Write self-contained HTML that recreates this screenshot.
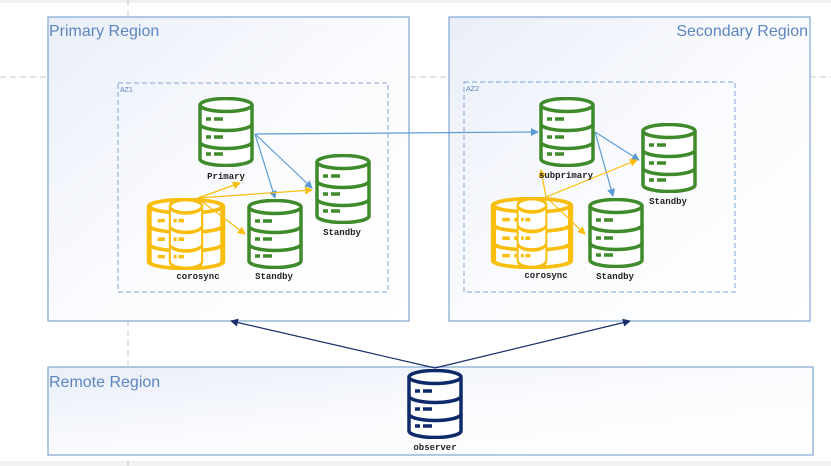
<!DOCTYPE html>
<html><head><meta charset="utf-8"><style>
html,body{margin:0;padding:0;background:#fff}
svg{display:block}
text{font-family:"Liberation Mono",monospace}
</style></head><body>
<svg width="831" height="466" viewBox="0 0 831 466" xmlns="http://www.w3.org/2000/svg">
<defs>
<linearGradient id="bg" x1="0" y1="0" x2="1" y2="1">
<stop offset="0" stop-color="#e9eef8"/><stop offset="0.5" stop-color="#fafbfe"/><stop offset="1" stop-color="#ffffff"/>
</linearGradient>
<symbol id="cyl" viewBox="0 0 58 70" preserveAspectRatio="none">
<g fill="#fff" stroke="currentColor" stroke-width="3.5">
<path d="M3,8 V62 A26,6.5 0 0 0 55,62 V8"/>
<ellipse cx="29" cy="8" rx="26" ry="6.5"/>
<path d="M3,27 A26,6.5 0 0 0 55,27 M3,45 A26,6.5 0 0 0 55,45" fill="none"/>
</g>
<g stroke="currentColor" stroke-width="3.5">
<path d="M9,22 H14 M17,22 H26 M9,40 H14 M17,40 H26 M9,57 H14 M17,57 H26"/>
</g>
</symbol>
<marker id="ab" markerWidth="8" markerHeight="8" refX="7" refY="4" orient="auto" markerUnits="userSpaceOnUse"><path d="M0,0 L8,4 L0,8 z" fill="#5b9bd5"/></marker>
<marker id="ay" markerWidth="8" markerHeight="8" refX="7" refY="4" orient="auto" markerUnits="userSpaceOnUse"><path d="M0,0 L8,4 L0,8 z" fill="#f9bd0b"/></marker>
<marker id="an" markerWidth="8" markerHeight="8" refX="7" refY="4" orient="auto" markerUnits="userSpaceOnUse"><path d="M0,0 L8,4 L0,8 z" fill="#1a2f6b"/></marker>
</defs>
<rect width="831" height="466" fill="#fff"/>
<rect x="0" y="0" width="831" height="3" fill="#f2f2f2"/>
<rect x="0" y="461" width="831" height="5" fill="#f2f2f2"/>
<line x1="128" y1="0" x2="128" y2="466" stroke="#c8c8c8" stroke-dasharray="6,4"/>
<line x1="0" y1="77" x2="831" y2="77" stroke="#c8c8c8" stroke-dasharray="6,4"/>

<rect x="48" y="17" width="361" height="304" fill="url(#bg)" stroke="#7ea6d3" stroke-width="1.2"/>
<rect x="449" y="17" width="361" height="304" fill="url(#bg)" stroke="#7ea6d3" stroke-width="1.2"/>
<rect x="48" y="367" width="765" height="88" fill="url(#bg)" stroke="#7ea6d3" stroke-width="1.2"/>
<text x="49" y="36" font-size="16" fill="#5b86c0" style="font-family:'Liberation Sans',sans-serif">Primary Region</text>
<text x="808" y="36" text-anchor="end" font-size="16" fill="#5b86c0" style="font-family:'Liberation Sans',sans-serif">Secondary Region</text>
<text x="49" y="387" font-size="16" fill="#5b86c0" style="font-family:'Liberation Sans',sans-serif">Remote Region</text>

<rect x="118" y="83" width="270" height="209" fill="none" stroke="#7ea6d3" stroke-dasharray="5,3"/>
<rect x="464" y="82" width="271" height="210" fill="none" stroke="#7ea6d3" stroke-dasharray="5,3"/>
<text x="120" y="92" font-size="7" fill="#5b86c0" style="font-family:'Liberation Sans',sans-serif">AZ1</text>
<text x="466" y="91" font-size="7" fill="#5b86c0" style="font-family:'Liberation Sans',sans-serif">AZ2</text>

<g stroke="#5b9bd5" stroke-width="1.2" fill="none">
<line x1="255" y1="134" x2="538" y2="132" marker-end="url(#ab)"/>
<line x1="255" y1="134" x2="312" y2="188" marker-end="url(#ab)"/>
<line x1="255" y1="134" x2="275" y2="198" marker-end="url(#ab)"/>
<line x1="595" y1="132" x2="639" y2="160" marker-end="url(#ab)"/>
<line x1="595" y1="132" x2="613" y2="196" marker-end="url(#ab)"/>
</g>
<g stroke="#1a2f6b" stroke-width="1.2">
<line x1="435" y1="368" x2="231" y2="321" marker-end="url(#an)"/>
<line x1="435" y1="368" x2="630" y2="321" marker-end="url(#an)"/>
</g>

<use href="#cyl" x="197" y="97" width="58" height="70" style="color:#3f8a2a"/>
<use href="#cyl" x="314" y="154" width="58" height="70" style="color:#3f8a2a"/>
<use href="#cyl" x="246" y="199" width="58" height="70" style="color:#3f8a2a"/>
<use href="#cyl" x="145" y="198" width="82" height="72" style="color:#f9bd0b"/>
<use href="#cyl" x="168" y="198" width="36" height="72" style="color:#f9bd0b"/>

<use href="#cyl" x="538" y="97" width="58" height="70" style="color:#3f8a2a"/>
<use href="#cyl" x="640" y="123" width="58" height="70" style="color:#3f8a2a"/>
<use href="#cyl" x="587" y="198" width="58" height="70" style="color:#3f8a2a"/>
<use href="#cyl" x="489" y="197" width="86" height="72" style="color:#f9bd0b"/>
<use href="#cyl" x="516" y="197" width="32" height="72" style="color:#f9bd0b"/>

<use href="#cyl" x="406" y="369" width="58" height="70" style="color:#0e2a6b"/>

<g stroke="#f9bd0b" stroke-width="1.2" fill="none">
<line x1="198" y1="198" x2="240" y2="183" marker-end="url(#ay)"/>
<line x1="198" y1="198" x2="312" y2="190" marker-end="url(#ay)"/>
<line x1="200" y1="200" x2="245" y2="234" marker-end="url(#ay)"/>
<line x1="546" y1="197" x2="541" y2="170" marker-end="url(#ay)"/>
<line x1="546" y1="197" x2="637" y2="160" marker-end="url(#ay)"/>
<line x1="546" y1="197" x2="585" y2="234" marker-end="url(#ay)"/>
</g>

<g font-size="9" fill="#222" text-anchor="middle" font-weight="bold">
<text x="226" y="179">Primary</text>
<text x="342" y="235">Standby</text>
<text x="274" y="279">Standby</text>
<text x="198" y="279">corosync</text>
<text x="566" y="178">subprimary</text>
<text x="668" y="204">Standby</text>
<text x="615" y="279">Standby</text>
<text x="546" y="278">corosync</text>
<text x="435" y="450">observer</text>
</g>
</svg>
</body></html>
